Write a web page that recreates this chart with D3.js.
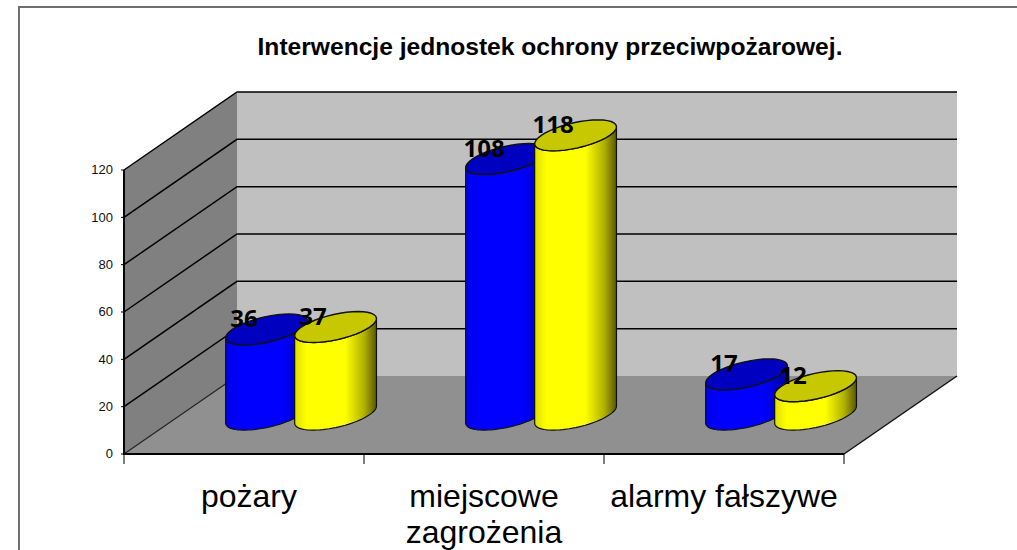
<!DOCTYPE html>
<html>
<head>
<meta charset="utf-8">
<script src="https://cdnjs.cloudflare.com/ajax/libs/d3/7.8.5/d3.min.js"></script>
<style>
  html, body { margin: 0; padding: 0; background: #fff; overflow: hidden; }
</style>
</head>
<body>
<script>
const categories = [["pożary"], ["miejscowe", "zagrożenia"], ["alarmy fałszywe"]];
const seriesNames = ["a", "b"];
const seriesA = [36, 108, 17];
const seriesB = [37, 118, 12];
const yTicks = [0, 20, 40, 60, 80, 100, 120];
const title = "Interwencje jednostek ochrony przeciwpożarowej.";

const width = 1017, height = 550;
const x0 = 124, x1 = 844, y0 = 454, y1 = 170;
const depthX = 113, depthY = 78;

const svg = d3.select("body").append("svg")
  .attr("width", width)
  .attr("height", height)
  .style("display", "block");

const defs = svg.append("defs");
function gradient(id, stops) {
  const g = defs.append("linearGradient").attr("id", id)
    .attr("x1", "0%").attr("x2", "100%").attr("y1", "0%").attr("y2", "0%");
  stops.forEach(s => g.append("stop").attr("offset", s[0]).attr("stop-color", s[1]));
}
gradient("blueBody", [[0, "#0000e6"], [0.15, "#0000ff"], [0.7, "#0000ff"], [1, "#0000a0"]]);
gradient("yellowBody", [[0, "#dcdc00"], [0.14, "#ffff00"], [0.62, "#ffff00"], [0.85, "#b0b000"], [1, "#585800"]]);

// outer frame, only left and top edges are in the picture
svg.append("path")
  .attr("d", "M19,550V7H1017")
  .attr("fill", "none").attr("stroke", "#6e6e6e").attr("stroke-width", 2);

svg.append("text")
  .attr("x", 550).attr("y", 55)
  .attr("text-anchor", "middle")
  .attr("font-family", "Liberation Sans")
  .attr("font-weight", "bold")
  .attr("font-size", 24.6)
  .text(title);

const y = d3.scaleLinear().domain([0, 120]).range([y0, y1]);
const xCat = d3.scaleBand().domain(d3.range(categories.length)).range([x0, x1]);
const xSeries = d3.scaleBand().domain(seriesNames).range([0, xCat.bandwidth()]).paddingInner(0).paddingOuter(0.739);

// depth: 0 = front edge of the floor, 1 = back wall
const px = (x, d) => x + d * depthX;
const py = (v, d) => y(v) - d * depthY;

const line3 = d3.line();

// walls and floor
svg.append("path").attr("d", line3([[px(x0, 0), py(0, 0)], [px(x0, 1), py(0, 1)], [px(x1, 1), py(0, 1)], [px(x1, 0), py(0, 0)]]) + "Z")
  .attr("fill", "#909090");
svg.append("path").attr("d", line3([[px(x0, 1), py(0, 1)], [px(x0, 1), py(120, 1)], [px(x1, 1), py(120, 1)], [px(x1, 1), py(0, 1)]]) + "Z")
  .attr("fill", "#c0c0c0");
svg.append("path").attr("d", line3([[px(x0, 0), py(0, 0)], [px(x0, 0), py(120, 0)], [px(x0, 1), py(120, 1)], [px(x0, 1), py(0, 1)]]) + "Z")
  .attr("fill", "#808080");

// gridlines along side and back wall
yTicks.forEach(t => {
  if (t > 0) {
    svg.append("path")
      .attr("d", line3([[px(x0, 0), py(t, 0)], [px(x0, 1), py(t, 1)], [px(x1, 1), py(t, 1)]]))
      .attr("fill", "none").attr("stroke", "#000").attr("stroke-width", 1.5);
  }
});
svg.append("path")
  .attr("d", line3([[px(x0, 0), py(0, 0)], [px(x0, 1), py(0, 1)]]))
  .attr("stroke", "#222").attr("stroke-width", 1.2);
svg.append("path")
  .attr("d", line3([[px(x1, 0), py(0, 0)], [px(x1, 1), py(0, 1)]]))
  .attr("stroke", "#111").attr("stroke-width", 1.5);

// axes
svg.append("path").attr("d", `M${x0},${y1}V${y0}H${x1}`)
  .attr("fill", "none").attr("stroke", "#000").attr("stroke-width", 2);
svg.selectAll(".ytick").data(yTicks).enter().append("path")
  .attr("d", t => `M${x0 - 3},${y(t)}H${x0}`)
  .attr("stroke", "#000");
svg.selectAll(".ylab").data(yTicks).enter().append("text")
  .attr("x", x0 - 11).attr("y", t => y(t) + 1)
  .attr("text-anchor", "end")
  .attr("dominant-baseline", "middle")
  .attr("font-family", "Liberation Sans")
  .attr("font-size", 13)
  .attr("fill", "#111")
  .text(t => t);
d3.range(categories.length + 1).forEach(i => {
  const xt = x0 + i * xCat.step();
  svg.append("path").attr("d", `M${xt},${y0}V${y0 + 10}`).attr("stroke", "#000").attr("stroke-width", 1);
});

// cylinders
const midDepth = 0.505;
const capR = 34.2, capD = 0.1987;
const capTilt = capD * depthX, capH = capD * depthY;
const tang = Math.atan2(capTilt, capR);

function capPoint(cx, cy, t) {
  return [cx + capR * Math.cos(t) + capTilt * Math.sin(t), cy - capH * Math.sin(t)];
}
function arc(cx, cy, from, to) {
  return d3.range(0, 41).map(i => capPoint(cx, cy, from + (to - from) * i / 40));
}

const bars = [];
categories.forEach((c, i) => {
  bars.push({ s: "a", v: seriesA[i], i: i, body: "url(#blueBody)", cap: "#0000c0" });
  bars.push({ s: "b", v: seriesB[i], i: i, body: "url(#yellowBody)", cap: "#c8c800" });
});

bars.forEach(b => {
  const cx = px(xCat(b.i) + xSeries(b.s) + xSeries.bandwidth() / 2, midDepth);
  const base = py(0, midDepth), top = py(b.v, midDepth);
  const g = svg.append("g");
  const lower = arc(cx, base, tang, tang - Math.PI);
  const upper = arc(cx, top, tang - Math.PI, tang);
  g.append("path")
    .attr("d", line3(lower.concat(upper)) + "Z")
    .attr("fill", b.body).attr("stroke", "#111").attr("stroke-width", 1.2);
  g.append("path")
    .attr("d", line3(arc(cx, top, 0, 2 * Math.PI)) + "Z")
    .attr("fill", b.cap).attr("stroke", "#111").attr("stroke-width", 1.4);
  b.cx = cx; b.top = top;
});

// labels go on top of all cylinders
bars.forEach(b => {
  svg.append("text")
    .attr("x", b.cx - 22.5).attr("y", b.top - 2)
    .attr("text-anchor", "middle")
    .attr("font-family", "Open Sans")
    .attr("font-weight", "bold")
    .attr("font-size", 24)
    .attr("fill", "#000")
    .text(b.v);
});

// category labels
categories.forEach((c, i) => {
  const tx = xCat(i) + xCat.bandwidth() / 2;
  c.forEach((w, k) => {
    svg.append("text")
      .attr("x", tx + (i === 0 ? 5 : 0)).attr("y", 507 + k * 36)
      .attr("text-anchor", "middle")
      .attr("font-family", "Liberation Sans")
      .attr("font-size", 32)
      .text(w);
  });
});
</script>
</body>
</html>
